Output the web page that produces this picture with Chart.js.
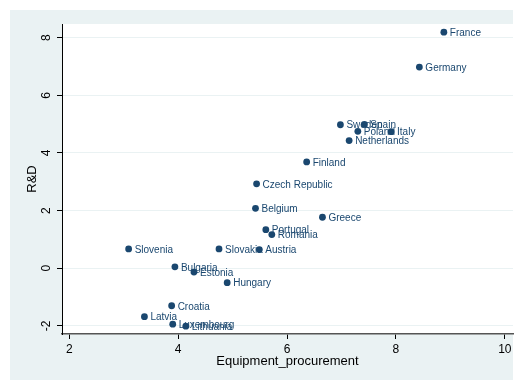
<!DOCTYPE html>
<html><head><meta charset="utf-8">
<script src="https://cdn.jsdelivr.net/npm/chart.js@4"></script>
<style>html,body{margin:0;padding:0;background:#fff;}canvas{display:block;}</style>
</head><body>
<canvas id="c" width="515" height="380"></canvas>
<script>
const countries = ["France","Germany","Sweden","Spain","Poland","Italy","Netherlands","Finland","Czech Republic","Belgium","Greece","Portugal","Romania","Slovenia","Slovakia","Austria","Bulgaria","Estonia","Hungary","Croatia","Latvia","Luxembourg","Lithuania"];
const equipment = [8.88,8.43,6.98,7.42,7.30,7.91,7.14,6.36,5.44,5.42,6.65,5.61,5.72,3.09,4.75,5.49,3.94,4.29,4.90,3.88,3.38,3.90,4.14];
const rnd = [8.19,6.98,4.98,4.99,4.75,4.74,4.43,3.69,2.93,2.08,1.77,1.34,1.17,0.67,0.67,0.65,0.05,-0.13,-0.50,-1.30,-1.68,-1.94,-2.01];
const xTicks = [2,4,6,8,10];
const yTicks = [-2,0,2,4,6,8];

const FONT = "'Liberation Sans', Arial, Helvetica, sans-serif";
const NAVY = '#1a476f';
const BG = '#eaf2f3';

const bgPlugin = {
  id: 'bg',
  beforeDraw(chart) {
    const ctx = chart.ctx, a = chart.chartArea;
    ctx.save();
    ctx.fillStyle = '#ffffff';
    ctx.fillRect(0, 0, chart.width, chart.height);
    ctx.fillStyle = BG;
    ctx.fillRect(10, 10, chart.width - 12, chart.height - 10);
    ctx.fillStyle = '#ffffff';
    ctx.fillRect(a.left, a.top, a.right - a.left, a.bottom - a.top);
    ctx.restore();
  }
};

const labelPlugin = {
  id: 'pointLabels',
  beforeDatasetsDraw(chart) {
    const ctx = chart.ctx;
    const meta = chart.getDatasetMeta(0);
    ctx.save();
    ctx.font = "10px " + FONT;
    ctx.fillStyle = NAVY;
    ctx.textAlign = 'left';
    ctx.textBaseline = 'middle';
    meta.data.forEach((pt, i) => {
      ctx.fillText(countries[i], pt.x + 6, pt.y + 1);
    });
    ctx.restore();
  }
};

new Chart(document.getElementById('c'), {
  type: 'scatter',
  data: {
    datasets: [{
      data: equipment.map((x, i) => ({x: x, y: rnd[i]})),
      backgroundColor: NAVY,
      borderColor: NAVY,
      borderWidth: 0,
      pointRadius: 3.4,
      pointHoverRadius: 3.4
    }]
  },
  options: {
    responsive: false,
    devicePixelRatio: 1,
    animation: false,
    events: [],
    layout: {autoPadding: false, padding: {left: 10, top: 24, right: 2, bottom: 0}},
    plugins: {legend: {display: false}, tooltip: {enabled: false}},
    scales: {
      x: {
        type: 'linear',
        min: 1.866, max: 10.15,
        afterBuildTicks: s => { s.ticks = xTicks.map(v => ({value: v})); },
        afterFit: s => { s.height = 46; s.paddingLeft = 0; s.paddingRight = 0; },
        grid: {drawOnChartArea: false, drawTicks: true, tickLength: 5, tickColor: '#000', tickWidth: 1},
        border: {color: '#555', width: 1.5},
        ticks: {font: {size: 12, family: FONT}, color: '#000', padding: 3, maxRotation: 0, minRotation: 0, autoSkip: false},
        title: {display: true, text: 'Equipment_procurement', color: '#000', font: {size: 13, family: FONT}, padding: {top: 0, bottom: 10.8}}
      },
      y: {
        type: 'linear',
        min: -2.28, max: 8.475,
        afterBuildTicks: s => { s.ticks = yTicks.map(v => ({value: v})); },
        afterFit: s => { s.width = 52; s.paddingTop = 0; s.paddingBottom = 0; },
        grid: {color: BG, lineWidth: 1, drawTicks: true, tickLength: 5, tickColor: '#000', tickWidth: 1},
        border: {color: '#000', width: 1},
        ticks: {font: {size: 12, family: FONT}, color: '#000', padding: 5, minRotation: 90, maxRotation: 90, crossAlign: 'center', autoSkip: false},
        title: {display: true, text: 'R&D', color: '#000', font: {size: 13, family: FONT}, padding: {top: 14.5, bottom: 0}}
      }
    }
  },
  plugins: [bgPlugin, labelPlugin]
});
</script>
</body></html>
